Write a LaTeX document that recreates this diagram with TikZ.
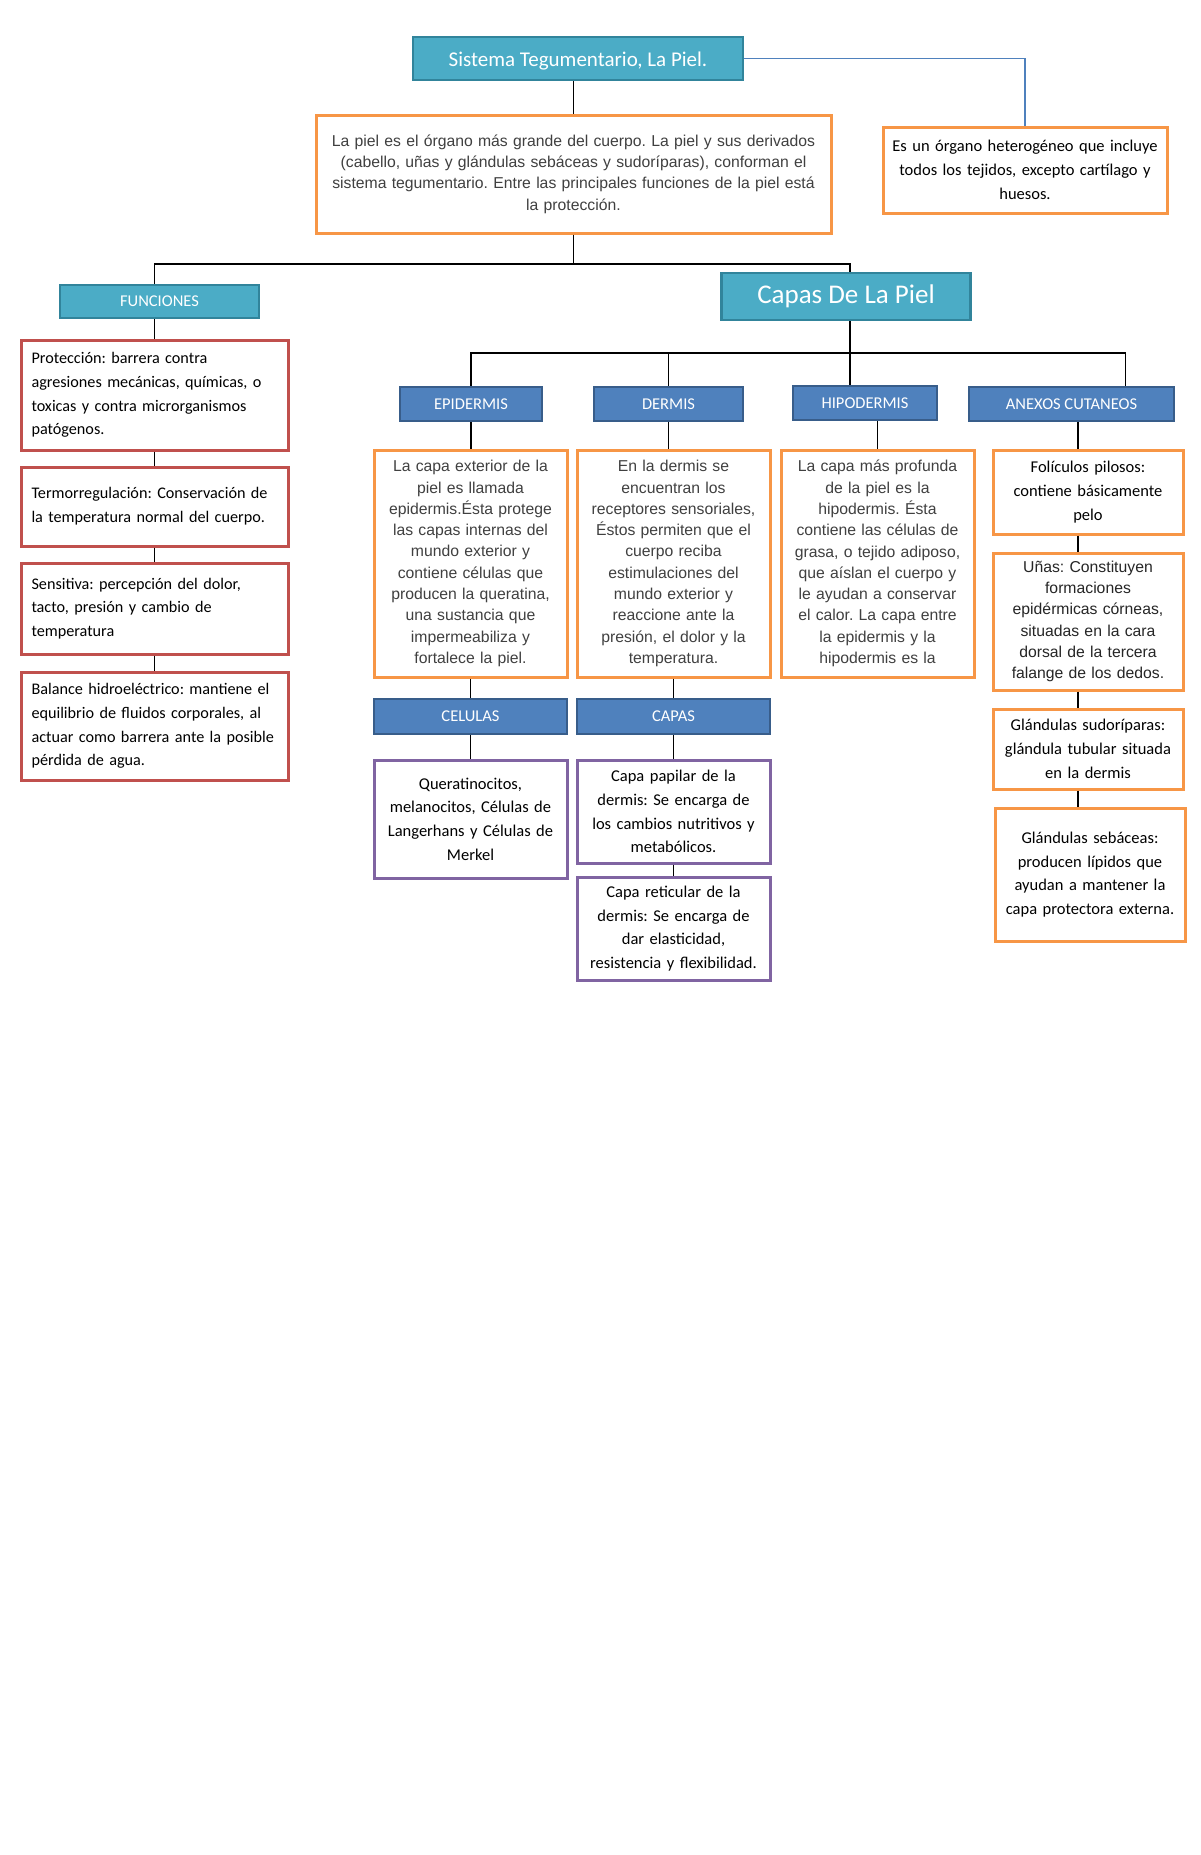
\documentclass[tikz,border=0pt]{standalone}
\usepackage{fontspec}
\setmainfont{Carlito}
\newfontfamily\arialf{Liberation Sans}
\frenchspacing
\definecolor{tealF}{HTML}{4BACC6}
\definecolor{tealB}{HTML}{31849B}
\definecolor{blueF}{HTML}{4F81BD}
\definecolor{blueB}{HTML}{385D8A}
\definecolor{orangeC}{HTML}{F79646}
\definecolor{redC}{HTML}{C0504D}
\definecolor{purpC}{HTML}{8064A2}
\definecolor{grayT}{HTML}{404040}
\tikzset{
  box/.style={rectangle, inner sep=0pt, align=center},
  tealbox/.style={box, draw=tealB, fill=tealF, line width=2.5pt, text=white},
  labbox/.style={box, draw=blueB, fill=blueF, line width=2.5pt, text=white, font=\fontsize{16.5}{20}\selectfont},
  obox/.style={box, draw=orangeC, fill=white, line width=3pt},
  rbox/.style={box, draw=redC, fill=white, line width=3pt, align=left, text width=246pt, minimum width=267pt, font=\frenchspacing\fontsize{16.2}{23.7}\selectfont},
  pbox/.style={box, draw=purpC, fill=white, line width=3pt, font=\fontsize{16.5}{23.7}\selectfont},
  ariatxt/.style={font=\arialf\fontsize{15.75}{21.3}\selectfont, text=grayT},
  calitxt/.style={font=\fontsize{16.5}{23.7}\selectfont},
  conn/.style={line width=1.5pt, black},
  bconn/.style={line width=1.2pt, blueF}
}
\begin{document}
\begin{tikzpicture}[x=1pt,y=-1pt]
\fill[white] (0,0) rectangle (1200,1855);
\useasboundingbox (0,0) rectangle (1200,1855);

% top level
\node[tealbox, minimum width=330pt, minimum height=43pt, font=\fontsize{21}{24}\selectfont, text depth=2pt, text height=17pt] (title) at (578,58.5) {Sistema Tegumentario, La Piel.};
\node[obox, ariatxt, minimum width=515pt, minimum height=118pt, text width=500pt] (desc) at (573.5,174) {La piel es el órgano más grande del cuerpo. La piel y sus derivados\\(cabello, uñas y glándulas sebáceas y sudoríparas), conforman el\\sistema tegumentario. Entre las principales funciones de la piel está\\la protección.};
\node[obox, calitxt, minimum width=284pt, minimum height=86pt, text width=275pt] (heter) at (1025,170) {Es un órgano heterogéneo que incluye\\todos los tejidos, excepto cartílago y\\huesos.};

% second level
\node[tealbox, minimum width=199pt, minimum height=33pt, font=\fontsize{16.5}{20}\selectfont] (func) at (159.5,301.5) {FUNCIONES};
\node[tealbox, minimum width=249pt, minimum height=47pt, font=\fontsize{27}{30}\selectfont] (capas) at (846,296.5) {Capas De La Piel};

% funciones column
\node[rbox, minimum height=110pt] (prot) at (154.5,395) {Protección: barrera contra\\agresiones mecánicas, químicas, o\\toxicas y contra microrganismos\\patógenos.};
\node[rbox, minimum height=79pt] (term) at (154.5,506.5) {Termorregulación: Conservación de\\la temperatura normal del cuerpo.};
\node[rbox, minimum height=91pt] (sens) at (154.5,608.5) {Sensitiva: percepción del dolor,\\tacto, presión y cambio de\\temperatura};
\node[rbox, minimum height=108pt] (bal) at (154.5,726) {Balance hidroeléctrico: mantiene el\\equilibrio de fluidos corporales, al\\actuar como barrera ante la posible\\pérdida de agua.};

% capas labels
\node[labbox, minimum width=142pt, minimum height=34pt] (epi) at (471,404) {EPIDERMIS};
\node[labbox, minimum width=149pt, minimum height=34pt] (der) at (668.5,404) {DERMIS};
\node[labbox, minimum width=144pt, minimum height=34pt] (hipo) at (865,403) {HIPODERMIS};
\node[labbox, minimum width=205pt, minimum height=34pt] (anex) at (1071.5,404) {ANEXOS CUTANEOS};

% layer descriptions
\node[obox, ariatxt, minimum width=193pt, minimum height=227pt, text width=185pt] (epiT) at (470.5,563.5) {La capa exterior de la\\piel es llamada\\epidermis.Ésta protege\\las capas internas del\\mundo exterior y\\contiene células que\\producen la queratina,\\una sustancia que\\impermeabiliza y\\fortalece la piel.};
\node[obox, ariatxt, minimum width=193pt, minimum height=227pt, text width=185pt] (derT) at (673.5,563.5) {En la dermis se\\encuentran los\\receptores sensoriales,\\Éstos permiten que el\\cuerpo reciba\\estimulaciones del\\mundo exterior y\\reaccione ante la\\presión, el dolor y la\\temperatura.};
\node[obox, ariatxt, minimum width=193pt, minimum height=227pt, text width=185pt] (hipT) at (877.5,563.5) {La capa más profunda\\de la piel es la\\hipodermis. Ésta\\contiene las células de\\grasa, o tejido adiposo,\\que aíslan el cuerpo y\\le ayudan a conservar\\el calor. La capa entre\\la epidermis y la\\hipodermis es la};

% anexos column
\node[obox, calitxt, minimum width=190pt, minimum height=84pt, text width=182pt] (fol) at (1088,492) {Folículos pilosos:\\contiene básicamente\\pelo};
\node[obox, ariatxt, text=black!85, minimum width=190pt, minimum height=137pt, text width=182pt] (una) at (1088,621.5) {Uñas: Constituyen\\formaciones\\epidérmicas córneas,\\situadas en la cara\\dorsal de la tercera\\falange de los dedos.};
\node[obox, calitxt, minimum width=190pt, minimum height=80pt, text width=182pt] (sud) at (1088,749) {Glándulas sudoríparas:\\glándula tubular situada\\en la dermis};
\node[obox, calitxt, minimum width=190pt, minimum height=133pt, text width=182pt] (seb) at (1090,874.5) {Glándulas sebáceas:\\producen lípidos que\\ayudan a mantener la\\capa protectora externa.};

% epidermis / dermis sub
\node[labbox, minimum width=193pt, minimum height=35pt] (cel) at (470.5,716.5) {CELULAS};
\node[labbox, minimum width=193pt, minimum height=35pt] (cap2) at (673.5,716.5) {CAPAS};
\node[pbox, minimum width=193pt, minimum height=118pt, text width=185pt] (quer) at (470.5,819) {Queratinocitos,\\melanocitos, Células de\\Langerhans y Células de\\Merkel};
\node[pbox, minimum width=193pt, minimum height=103pt, text width=185pt] (pap) at (673.5,811.5) {Capa papilar de la\\dermis: Se encarga de\\los cambios nutritivos y\\metabólicos.};
\node[pbox, minimum width=193pt, minimum height=103pt, text width=185pt] (ret) at (673.5,928.5) {Capa reticular de la\\dermis: Se encarga de\\dar elasticidad,\\resistencia y flexibilidad.};

% connectors
\coordinate (j1) at (573.5,264);
\coordinate (j2) at (850,353);
\draw[conn] (title.south -| desc.north) -- (desc.north);
\draw[bconn] (title.east) -| (heter.north);
\draw[conn] (desc.south) -- (j1);
\draw[conn] (j1) -| ([xshift=-5pt]func.north);
\draw[conn] (j1) -| ([xshift=4pt]capas.north);
\draw[conn] ([xshift=4pt]capas.south) -- (j2);
\draw[conn] (func.south -| prot.north) -- (prot.north);
\draw[conn] (prot.south) -- (term.north);
\draw[conn] (term.south) -- (sens.north);
\draw[conn] (sens.south) -- (bal.north);
\draw[conn] (j2) -| (epi.north);
\draw[conn] (j2) -| (der.north);
\draw[conn] (j2) -| ([xshift=-15pt]hipo.north);
\draw[conn] (j2) -| ([xshift=54pt]anex.north);
\draw[conn] (epi.south) -- (epiT.north -| epi.south);
\draw[conn] (der.south) -- (derT.north -| der.south);
\draw[conn] (hipo.south -| hipT.north) -- (hipT.north);
\draw[conn] ([xshift=-10pt]fol.north) -- ([xshift=-10pt]fol.north |- anex.south);
\draw[conn] ([xshift=-10pt]fol.south) -- ([xshift=-10pt]una.north);
\draw[conn] ([xshift=-10pt]una.south) -- ([xshift=-10pt]sud.north);
\draw[conn] ([xshift=-10pt]sud.south) -- ([xshift=-12pt]seb.north);
\draw[conn] (epiT.south) -- (cel.north);
\draw[conn] (derT.south) -- (cap2.north);
\draw[conn] (cel.south) -- (quer.north);
\draw[conn] (cap2.south) -- (pap.north);
\draw[conn] (pap.south) -- (ret.north);
\end{tikzpicture}
\end{document}
